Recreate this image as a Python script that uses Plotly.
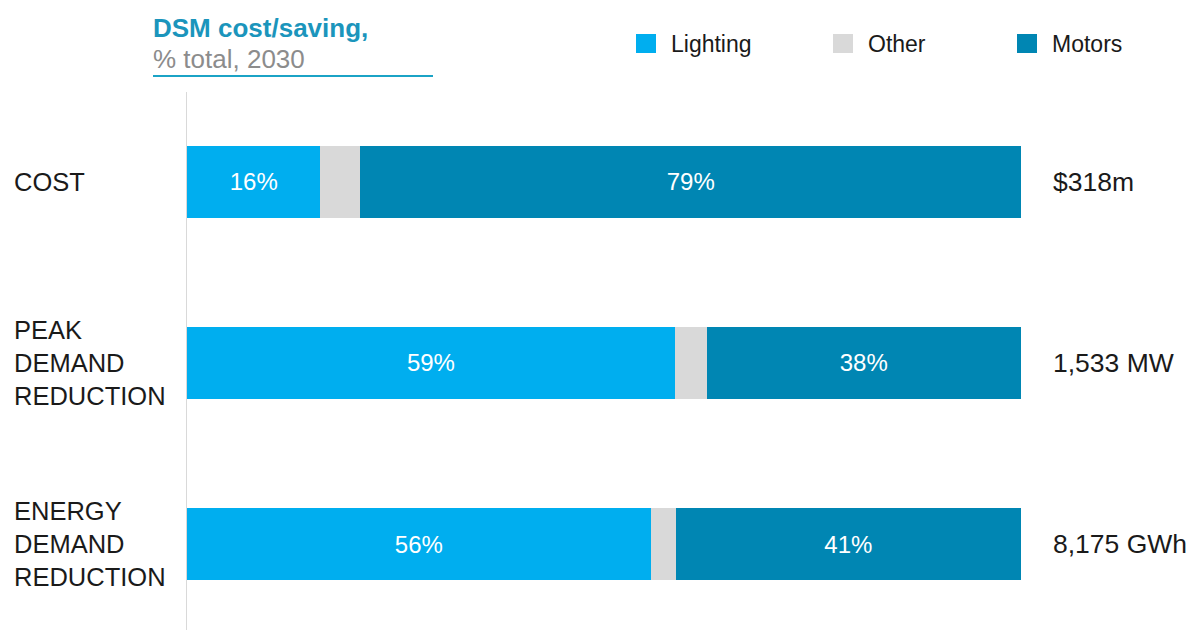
import plotly.graph_objects as go

# ---- data ----
categories = ["COST", "PEAK<br>DEMAND<br>REDUCTION", "ENERGY<br>DEMAND<br>REDUCTION"]
lighting = [16.0, 58.5, 55.6]
other = [4.8, 3.8, 3.0]
motors = [79.2, 37.7, 41.4]
lighting_labels = ["16%", "59%", "56%"]
motors_labels = ["79%", "38%", "41%"]
totals = ["$318m", "1,533 MW", "8,175 GWh"]
series_names = ["Lighting", "Other", "Motors"]
series_colors = ["#00AEEF", "#D9D9D9", "#0086B3"]

W, H = 1196, 630
OFF = 8  # page offset compensation
ML, MR, MT, MB = 187 - OFF, 175 + OFF, 92 - OFF, OFF
PW, PH = W - ML - MR, H - MT - MB

def px_x(px):
    return (px - OFF - ML) / PW

def px_y(py):
    return (H - MB - (py - OFF)) / PH

FONT = "Liberation Sans, Arial, sans-serif"
ypos = list(range(len(categories)))

fig = go.Figure()
series_vals = [lighting, other, motors]
series_text = [lighting_labels, [""] * len(categories), motors_labels]
for name, vals, txt, col in zip(series_names, series_vals, series_text, series_colors):
    fig.add_trace(go.Bar(
        y=ypos, x=vals, name=name, orientation="h",
        marker=dict(color=col, line=dict(width=0)),
        text=txt, textposition="inside", insidetextanchor="middle",
        textfont=dict(color="white", size=24, family=FONT),
        width=0.4, showlegend=False, hoverinfo="skip",
    ))

annotations = []
for i, cat in enumerate(categories):
    annotations.append(dict(
        x=0, xref="paper", xshift=-175, xanchor="left",
        y=i, yref="y", yanchor="middle",
        text=cat, showarrow=False, align="left",
        font=dict(size=25.5, color="#1A1A1A", family=FONT),
    ))
for i, t in enumerate(totals):
    annotations.append(dict(
        x=100, xref="x", xshift=30, xanchor="left",
        y=i, yref="y", yanchor="middle",
        text=t, showarrow=False, align="left",
        font=dict(size=26.5, color="#1A1A1A", family=FONT),
    ))
annotations.append(dict(
    x=px_x(151), xref="paper", xanchor="left",
    y=px_y(28), yref="paper", yanchor="middle",
    text="<b>DSM cost/saving,</b>", showarrow=False,
    font=dict(size=26, color="#1B95BC", family=FONT),
))
annotations.append(dict(
    x=px_x(151), xref="paper", xanchor="left",
    y=px_y(59), yref="paper", yanchor="middle",
    text="% total, 2030", showarrow=False,
    font=dict(size=26, color="#8C8C8C", family=FONT),
))

shapes = [dict(
    type="line", xref="paper", yref="paper",
    x0=px_x(153), x1=px_x(433), y0=px_y(76), y1=px_y(76),
    line=dict(color="#1BA3C6", width=2),
)]

legend_x = [636, 833, 1017]
for name, col, lx in zip(series_names, series_colors, legend_x):
    shapes.append(dict(
        type="rect", xref="paper", yref="paper",
        x0=px_x(lx), x1=px_x(lx + 20), y0=px_y(53), y1=px_y(34),
        fillcolor=col, line=dict(width=0),
    ))
    annotations.append(dict(
        x=px_x(lx + 33), xref="paper", xanchor="left",
        y=px_y(44), yref="paper", yanchor="middle",
        text=name, showarrow=False,
        font=dict(size=23, color="#1A1A1A", family=FONT),
    ))

fig.update_layout(
    width=W, height=H,
    margin=dict(l=ML, r=MR, t=MT, b=MB, pad=0),
    barmode="stack",
    plot_bgcolor="white", paper_bgcolor="white",
    xaxis=dict(range=[0, 100], visible=False, fixedrange=True),
    yaxis=dict(range=[2.475, -0.497], showticklabels=False, showgrid=False,
               zeroline=False, showline=True, linecolor="#D9D9D9", linewidth=1,
               ticks=""),
    annotations=annotations,
    shapes=shapes,
    font=dict(family=FONT),
)

fig.write_html("out.html")
